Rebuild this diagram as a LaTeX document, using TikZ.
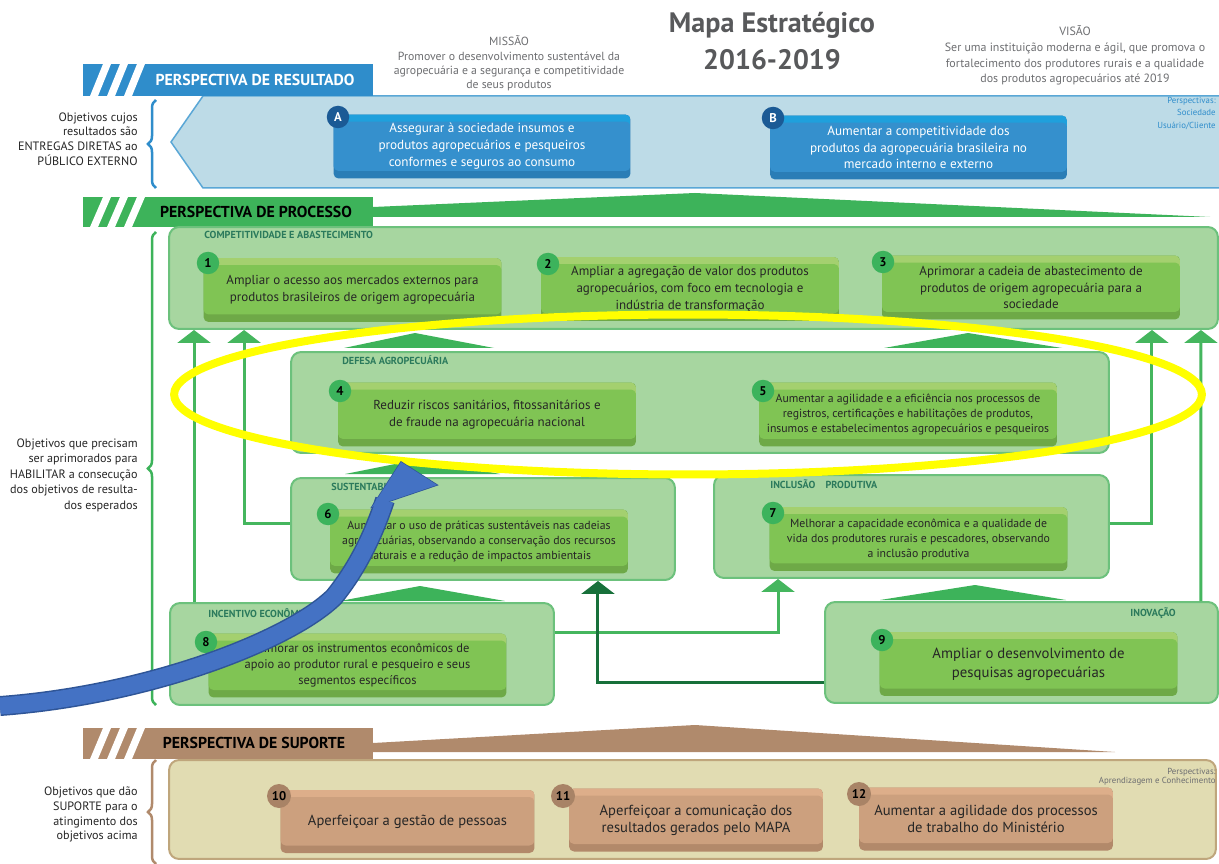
\documentclass[tikz,border=0pt]{standalone}
\usepackage{fontspec}
\setmainfont{PT Sans}
\usetikzlibrary{arrows.meta,calc,decorations.pathreplacing}

\definecolor{resblue}{HTML}{2F8DCB}
\definecolor{respanel}{HTML}{BDDBE7}
\definecolor{resline}{HTML}{5AA7D6}
\definecolor{bluetop}{HTML}{1FA0DC}
\definecolor{bluemid}{HTML}{3590CD}
\definecolor{bluebot}{HTML}{2A7DB6}
\definecolor{bluenum}{HTML}{1B5A95}
\definecolor{procgreen}{HTML}{3DB35A}
\definecolor{grpfill}{HTML}{A7D6A0}
\definecolor{grpline}{HTML}{6CC17C}
\definecolor{greentop}{HTML}{A4D06F}
\definecolor{greenmid}{HTML}{80C454}
\definecolor{greenbot}{HTML}{6EA947}
\definecolor{greennum}{HTML}{3CB35C}
\definecolor{grplabel}{HTML}{2B7A5C}
\definecolor{connlight}{HTML}{45B65E}
\definecolor{conndark}{HTML}{17703A}
\definecolor{supbrown}{HTML}{B08A6C}
\definecolor{suppanel}{HTML}{E1DCB2}
\definecolor{supline}{HTML}{BFA67C}
\definecolor{browntop}{HTML}{DDAE8A}
\definecolor{brownmid}{HTML}{CCA07E}
\definecolor{brownbot}{HTML}{B2896A}
\definecolor{brownnum}{HTML}{A88366}
\definecolor{titlegray}{HTML}{58595B}
\definecolor{notegray}{HTML}{6D6E71}
\definecolor{hiyellow}{HTML}{FFFF00}
\definecolor{arrowblue}{HTML}{4472C4}
\definecolor{arrowedge}{HTML}{2F5597}

\newcommand{\fsz}[2]{\fontsize{#1}{#2}\selectfont}

\begin{document}
\begin{tikzpicture}[x=0.02cm,y=-0.02cm,
    objbase/.style n args={3}{rounded corners=0.1cm, fill=#3, inner sep=0pt, align=center, text=black!85,
      path picture={
        \fill[#1] (path picture bounding box.north west) rectangle ([yshift=-0.3cm]path picture bounding box.north east);
        \fill[#2,rounded corners=0.1cm] ([yshift=-0.14cm]path picture bounding box.north west) rectangle ([yshift=0.15cm]path picture bounding box.south east);}},
    gobj/.style={objbase={greentop}{greenmid}{greenbot}, minimum width=5.96cm, minimum height=1.28cm, font=\fsz{7.4}{9.6}},
    bobj/.style={objbase={bluetop}{bluemid}{bluebot}, minimum width=5.94cm, minimum height=1.28cm, text=white, font=\fsz{7.5}{9.6}},
    sobj/.style={objbase={browntop}{brownmid}{brownbot}, minimum width=5.08cm, minimum height=1.26cm, font=\fsz{8.3}{9.8}},
    num/.style={circle, fill=#1, inner sep=0pt, minimum size=0.45cm, font=\bfseries\fsz{7.2}{7}},
    grp/.style={rounded corners=0.2cm, fill=grpfill, draw=grpline, line width=0.04cm, inner sep=0pt},
    grplbl/.style={text=grplabel, font=\bfseries\fsz{5.8}{6}, inner sep=0pt},
    note/.style={align=right, text=black!85, inner sep=0pt, anchor=east},
    bannertxt/.style={font=\bfseries\fsz{9}{9}, inner sep=0pt},
    conn/.style={line width=0.06cm, draw=connlight, -{Triangle[width=0.66cm,length=0.26cm]}},
    curly/.style={decorate, decoration={brace, amplitude=0.16cm}, line width=0.05cm}]

\useasboundingbox[fill=white] (0,0) rectangle (1219,864);

\node[font=\bfseries\fsz{16}{21}, text=titlegray, align=center] (title) at (772,41) {Mapa Estratégico\\2016-2019};
\node[font=\fsz{6.7}{8.1}, text=notegray, align=center] (missao) at (509,63.5) {MISSÃO\\Promover o desenvolvimento sustentável da\\agropecuária e a segurança e competitividade\\de seus produtos};
\node[font=\fsz{6.8}{8.9}, text=notegray, align=center] (visao) at (1075,55.5) {VISÃO\\Ser uma instituição moderna e ágil, que promova o\\fortalecimento dos produtores rurais e a qualidade\\dos produtos agropecuários até 2019};

\filldraw[fill=respanel, draw=resline, line width=0.03cm] (1219,96) -- (203,96) -- (171,142) -- (203,188) -- (1219,188);

\fill[procgreen] (373,217) -- (373,207) -- (695,193) -- (1210,217) -- cycle;
\fill[supbrown] (373,752) -- (373,743) -- (695,725) -- (1115,752) -- cycle;
\foreach \t/\b/\col in {64/96/resblue, 197/227/procgreen, 728/759/supbrown} {
  \fill[\col] (83,\t) rectangle (373,\b);
  \foreach \i in {0,1,2}
    \fill[white] ({90+17*\i},\b) -- ({98+17*\i},\b) -- ({111+17*\i},\t) -- ({103+17*\i},\t) -- cycle;
}
\node[bannertxt, text=white] (bres) at (255,80) {PERSPECTIVA DE RESULTADO};
\node[bannertxt] (bproc) at (256,212) {PERSPECTIVA DE PROCESSO};
\node[bannertxt] (bsup) at (254,743) {PERSPECTIVA DE SUPORTE};

\draw[curly, draw=resblue] (156,188) -- (156,100);
\draw[curly, draw=procgreen] (156,705) -- (156,232);
\draw[curly, draw=supbrown] (156,864) -- (156,760);

\node[note, font=\fsz{6.9}{8.3}] (nres) at (138,139) {Objetivos cujos\\resultados são\\ENTREGAS DIRETAS ao\\PÚBLICO EXTERNO};
\node[note, font=\fsz{6.9}{8.8}] (nproc) at (138,475) {Objetivos que precisam\\ser aprimorados para\\HABILITAR a consecução\\dos objetivos de resulta-\\dos esperados};
\node[note, font=\fsz{6.9}{8.5}] (nsup) at (138,814.5) {Objetivos que dão\\SUPORTE para o\\atingimento dos\\objetivos acima};

\node[font=\fsz{5}{7}, text=resblue, align=right, anchor=east, inner sep=0pt] (pres) at (1216,113.5) {Perspectivas:\\Sociedade\\Usuário/Cliente};

\foreach \a/\b/\c/\h in {344/415/494/348, 884/968/1062/348, 345/420/500/474, 340/420/505/601, 880/975/1066/600}
  \fill[procgreen] (\a,\h) -- (\b,{\h-15}) -- (\c,\h) -- cycle;

\node[grp, minimum width=20.98cm, minimum height=2.04cm] (compet) at (693.5,278) {};
\node[grplbl, anchor=west] (lcompet) at (204,235) {COMPETITIVIDADE E ABASTECIMENTO};
\node[grp, minimum width=16.36cm, minimum height=2.02cm] (defesa) at (700,402.5) {};
\node[grplbl, anchor=west] (ldefesa) at (342,360) {DEFESA AGROPECUÁRIA};
\node[grp, minimum width=7.68cm, minimum height=2.04cm] (sustent) at (483,529) {};
\node[grplbl, anchor=west] (lsustent) at (331,487) {SUSTENTABILIDADE};
\node[grp, minimum width=7.9cm, minimum height=2.06cm] (inclusao) at (911.5,526.5) {};
\node[grplbl, anchor=west] (linclusao) at (770,484) {INCLUSÃO\quad PRODUTIVA};
\node[grp, minimum width=7.68cm, minimum height=2.04cm] (incentivo) at (362,654) {};
\node[grplbl, anchor=west] (lincentivo) at (208,613) {INCENTIVO ECONÔMICO};
\node[grp, minimum width=7.86cm, minimum height=2.02cm] (inovacao) at (1021.5,652.5) {};
\node[grplbl, anchor=east] (linovacao) at (1176,613) {INOVAÇÃO};

\node[rounded corners=0.2cm, fill=suppanel, draw=supline, line width=0.04cm, minimum width=20.94cm, minimum height=1.98cm] (suporte) at (692.5,809.5) {};
\node[font=\fsz{5}{5.4}, text=notegray, align=right, anchor=east, inner sep=0pt] (psup) at (1216,777) {Perspectivas:\\Aprendizagem e Conhecimento};

\draw[conn] ([xshift=0.5cm]incentivo.north west) -- ([xshift=0.5cm]incentivo.north west |- compet.south);
\draw[conn] ([yshift=0.12cm]sustent.west) -| ([xshift=1.52cm]compet.south west);
\draw[conn] ([yshift=0.07cm]inclusao.east) -| ([xshift=-1.34cm]compet.south east);
\draw[conn] ([xshift=-0.36cm]inovacao.north east) -- ([xshift=-0.36cm]compet.south east);
\draw[conn] ([yshift=0.44cm]incentivo.east) -| ([xshift=1.3cm]inclusao.south west);
\draw[conn, draw=conndark] ([yshift=-0.61cm]inovacao.west) -| ([xshift=-1.56cm]sustent.south east);

\node[bobj] (oA) at (482,146.5) {Assegurar à sociedade insumos e\\produtos agropecuários e pesqueiros\\conformes e seguros ao consumo};
\node[bobj] (oB) at (918.5,147.5) {Aumentar a competitividade dos\\produtos da agropecuária brasileira no\\mercado interno e externo};
\node[gobj] (o1) at (352.5,290) {Ampliar o acesso aos mercados externos para\\produtos brasileiros de origem agropecuária};
\node[gobj] (o2) at (690,289) {Ampliar a agregação de valor dos produtos\\agropecuários, com foco em tecnologia e\\indústria de transformação};
\node[gobj] (o3) at (1031,287.5) {Aprimorar a cadeia de abastecimento de\\produtos de origem agropecuária para a\\sociedade};
\node[gobj] (o4) at (487,414.5) {Reduzir riscos sanitários, fitossanitários e\\de fraude na agropecuária nacional};
\node[gobj, font=\fsz{6.7}{8.3}] (o5) at (908,414.5) {Aumentar a agilidade e a eficiência nos processos de\\registros, certificações e habilitações de produtos,\\insumos e estabelecimentos agropecuários e pesqueiros};
\node[gobj, font=\fsz{6.7}{8.5}] (o6) at (479,541.5) {Aumentar o uso de práticas sustentáveis nas cadeias\\agropecuárias, observando a conservação dos recursos\\naturais e a redução de impactos ambientais};
\node[gobj, font=\fsz{6.7}{8.5}] (o7) at (918.5,539) {Melhorar a capacidade econômica e a qualidade de\\vida dos produtores rurais e pescadores, observando\\a inclusão produtiva};
\node[gobj, font=\fsz{7.1}{9}] (o8) at (357.5,665.5) {Aprimorar os instrumentos econômicos de\\apoio ao produtor rural e pesqueiro e seus\\segmentos específicos};
\node[gobj, font=\fsz{8.4}{10.8}] (o9) at (1028.5,664) {Ampliar o desenvolvimento de\\pesquisas agropecuárias};
\node[sobj] (o10) at (407.5,821.5) {Aperfeiçoar a gestão de pessoas};
\node[sobj] (o11) at (696,820) {Aperfeiçoar a comunicação dos\\resultados gerados pelo MAPA};
\node[sobj] (o12) at (986,819) {Aumentar a agilidade dos processos\\de trabalho do Ministério};

\node[num=bluenum, text=white] (nA) at (338,117) {A};
\node[num=bluenum, text=white] (nB) at (773,118) {B};
\foreach \n/\x/\y in {1/208/263, 2/548/264, 3/883/262, 4/340/391, 5/763/391, 6/328/514, 7/773/513, 8/206/642, 9/882/640}
  \node[num=greennum] (n\n) at (\x,\y) {\n};
\foreach \n/\x/\y in {10/279/796, 11/563/796, 12/859/794}
  \node[num=brownnum, minimum size=0.48cm] (n\n) at (\x,\y) {\n};

\draw[hiyellow, line width=0.16cm] (688,394.5) ellipse [x radius=10.28cm, y radius=1.6cm];

\filldraw[fill=arrowblue, draw=arrowedge, line width=0.03cm] (372,507) -- (437,485) -- (401,462) -- cycle;
\draw[arrowblue, line width=0.34cm, preaction={draw=arrowedge, line width=0.4cm}] (0,706) .. controls (150,695) and (290,640) .. (334,597) .. controls (360,565) and (375,530) .. (385,500);
\fill[arrowblue] (372,507) -- (437,485) -- (401,462) -- cycle;
\end{tikzpicture}
\end{document}
